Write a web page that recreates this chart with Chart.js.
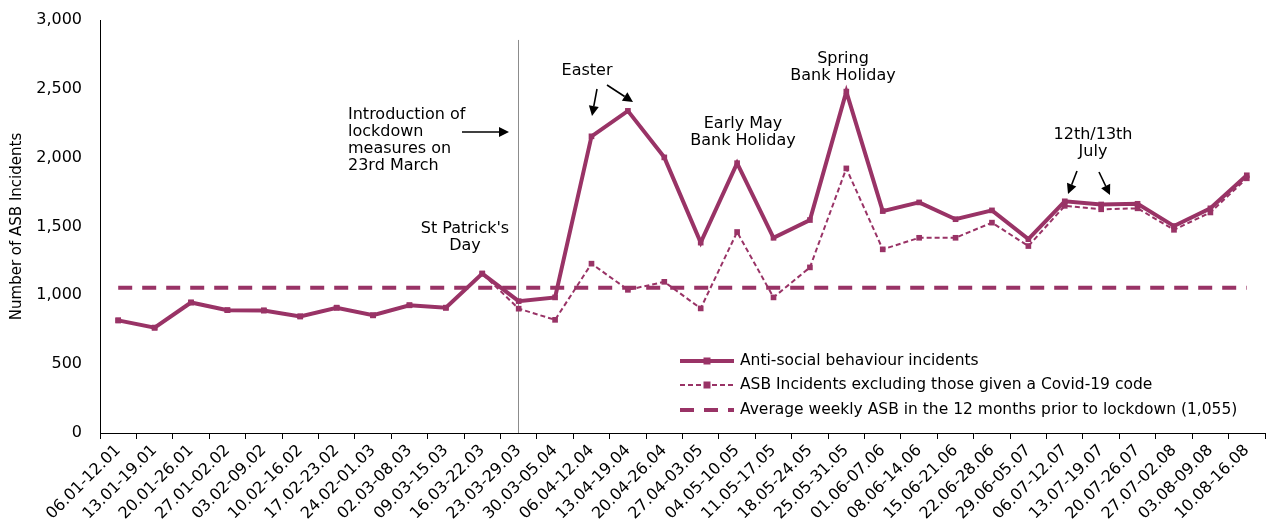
<!DOCTYPE html>
<html>
<head>
<meta charset="utf-8">
<script src="https://cdn.jsdelivr.net/npm/chart.js@4.4.0/dist/chart.umd.min.js"></script>
<style>
  html, body { margin: 0; padding: 0; background: #fff; }
  #wrap { width: 1269px; height: 521px; }
</style>
</head>
<body>
<div id="wrap"><canvas id="myChart" width="1269" height="521"></canvas></div>
<script>
const weeks = ["06.01-12.01", "13.01-19.01", "20.01-26.01", "27.01-02.02", "03.02-09.02", "10.02-16.02",
	"17.02-23.02", "24.02-01.03", "02.03-08.03", "09.03-15.03", "16.03-22.03", "23.03-29.03",
	"30.03-05.04", "06.04-12.04", "13.04-19.04", "20.04-26.04", "27.04-03.05", "04.05-10.05",
	"11.05-17.05", "18.05-24.05", "25.05-31.05", "01.06-07.06", "08.06-14.06", "15.06-21.06",
	"22.06-28.06", "29.06-05.07", "06.07-12.07", "13.07-19.07", "20.07-26.07", "27.07-02.08",
	"03.08-09.08", "10.08-16.08"];

const asbIncidents = [818, 765, 948, 892, 890, 847, 910, 855, 928, 910, 1158, 958,
	985, 2155, 2340, 2002, 1383, 1960, 1418, 1547, 2480, 1612,
	1675, 1553, 1617, 1408, 1683, 1660, 1665, 1503, 1632, 1872];

const asbExclCovid = [818, 765, 948, 892, 890, 847, 910, 855, 928, 910, 1158, 903,
	822, 1230, 1040, 1098, 905, 1460, 985, 1203, 1922, 1334,
	1418, 1418, 1528, 1358, 1650, 1625, 1632, 1476, 1602, 1850];

const avgWeekly = 1055;
const avgLine = weeks.map(() => avgWeekly);

const seriesNames = ["Anti-social behaviour incidents",
	"ASB Incidents excluding those given a Covid-19 code",
	"Average weekly ASB in the 12 months prior to lockdown (1,055)"];

const lockdownWeek = 11;
const plum = "#993366";
const font = "'DejaVu Sans', 'Liberation Sans', Arial, sans-serif";

// notes written on the chart
const notes = [
	{ lines: ["Introduction of", "lockdown", "measures on", "23rd March"], x: 348, y: 115, align: "left" },
	{ lines: ["St Patrick's", "Day"], x: 465, y: 229, align: "center" },
	{ lines: ["Easter"], x: 587, y: 71, align: "center" },
	{ lines: ["Early May", "Bank Holiday"], x: 743, y: 124, align: "center" },
	{ lines: ["Spring", "Bank Holiday"], x: 843, y: 59, align: "center" },
	{ lines: ["12th/13th", "July"], x: 1093, y: 135, align: "center" }
];
const arrows = [
	[462, 132, 509, 132],
	[597, 89, 592, 116],
	[607, 85, 633, 102],
	[1077, 171, 1068, 194],
	[1099, 172, 1110, 195]
];

const drawArrow = (c, x1, y1, x2, y2) => {
	const a = Math.atan2(y2 - y1, x2 - x1);
	const hl = 10, hw = 5;
	const bx = x2 - hl * Math.cos(a), by = y2 - hl * Math.sin(a);
	c.beginPath();
	c.moveTo(x1, y1);
	c.lineTo(bx, by);
	c.stroke();
	c.beginPath();
	c.moveTo(x2, y2);
	c.lineTo(bx + hw * Math.sin(a), by - hw * Math.cos(a));
	c.lineTo(bx - hw * Math.sin(a), by + hw * Math.cos(a));
	c.closePath();
	c.fill();
};

const extras = {
	id: "extras",
	beforeDatasetsDraw(chart) {
		const c = chart.ctx;
		const xs = chart.scales.x;
		const x = Math.round(xs.getPixelForValue(lockdownWeek)) - 0.5;
		c.save();
		c.strokeStyle = "#8c8c8c";
		c.lineWidth = 1;
		c.beginPath();
		c.moveTo(x, chart.scales.y.getPixelForValue(2855));
		c.lineTo(x, chart.chartArea.bottom);
		c.stroke();
		c.restore();
	},
	afterDraw(chart) {
		const c = chart.ctx;
		c.save();
		c.fillStyle = "#000";
		c.strokeStyle = "#000";
		c.font = "16px " + font;
		c.textBaseline = "middle";
		for (const n of notes) {
			c.textAlign = n.align;
			n.lines.forEach((t, i) => c.fillText(t, n.x, n.y + i * 17));
		}
		c.lineWidth = 1.6;
		for (const a of arrows) drawArrow(c, a[0], a[1], a[2], a[3]);

		// legend
		const lx = 680, lw = 54, tx = 740;
		const rows = [361, 385, 410];
		c.strokeStyle = plum;
		c.fillStyle = plum;
		c.lineWidth = 4;
		c.setLineDash([]);
		c.beginPath(); c.moveTo(lx, rows[0]); c.lineTo(lx + lw, rows[0]); c.stroke();
		c.fillRect(lx + lw / 2 - 3.5, rows[0] - 3.5, 7, 7);
		c.lineWidth = 2;
		c.setLineDash([5, 3]);
		c.beginPath(); c.moveTo(lx, rows[1]); c.lineTo(lx + lw, rows[1]); c.stroke();
		c.fillRect(lx + lw / 2 - 3.5, rows[1] - 3.5, 7, 7);
		c.lineWidth = 4;
		c.setLineDash([14, 10]);
		c.beginPath(); c.moveTo(lx, rows[2]); c.lineTo(lx + lw, rows[2]); c.stroke();
		c.setLineDash([]);
		c.fillStyle = "#000";
		c.textAlign = "left";
		c.font = "15.5px " + font;
		seriesNames.forEach((s, i) => c.fillText(s, tx, rows[i]));
		c.restore();
	}
};

const ctx = document.getElementById("myChart").getContext("2d");
const chart = new Chart(ctx, {
	type: "line",
	data: {
		labels: weeks,
		datasets: [{
			label: seriesNames[0],
			data: asbIncidents,
			borderColor: plum,
			backgroundColor: plum,
			borderWidth: 4,
			pointStyle: "rect",
			pointRadius: 4,
			pointBorderWidth: 0,
			tension: 0,
			order: 1
		}, {
			label: seriesNames[1],
			data: asbExclCovid,
			borderColor: plum,
			backgroundColor: plum,
			borderWidth: 2,
			borderDash: [5, 3],
			pointStyle: "rect",
			pointRadius: 4,
			pointBorderWidth: 0,
			tension: 0,
			order: 2
		}, {
			label: seriesNames[2],
			data: avgLine,
			borderColor: plum,
			borderWidth: 4,
			borderDash: [14, 10],
			pointRadius: 0,
			tension: 0,
			order: 3
		}]
	},
	options: {
		responsive: false,
		animation: false,
		layout: { padding: { top: 20, right: 1, left: 0, bottom: 0 } },
		plugins: {
			legend: { display: false },
			tooltip: { enabled: false }
		},
		scales: {
			x: {
				offset: true,
				grid: { offset: true, drawOnChartArea: false, drawTicks: true, tickLength: 6, color: "#000" },
				border: { display: true, color: "#000", width: 1 },
				ticks: {
					autoSkip: false,
					minRotation: 45,
					maxRotation: 45,
					color: "#000",
					font: { family: font, size: 16 },
					padding: 2
				},
				afterFit(s) {
					s.height = 88;
					s.paddingLeft = 0;
					s.paddingRight = 0;
				}
			},
			y: {
				min: 0,
				max: 3000,
				ticks: {
					stepSize: 500,
					color: "#000",
					font: { family: font, size: 16 },
					padding: 18
				},
				grid: { display: false, drawTicks: false },
				border: { display: true, color: "#000", width: 1 },
				title: {
					display: true,
					text: "Number of ASB Incidents",
					color: "#000",
					font: { family: font, size: 15 },
					padding: { top: 8, bottom: 0 }
				},
				afterFit(s) {
					s.width = 100;
					s.paddingTop = 0;
					s.paddingBottom = 0;
				}
			}
		}
	},
	plugins: [extras]
});
</script>
</body>
</html>
